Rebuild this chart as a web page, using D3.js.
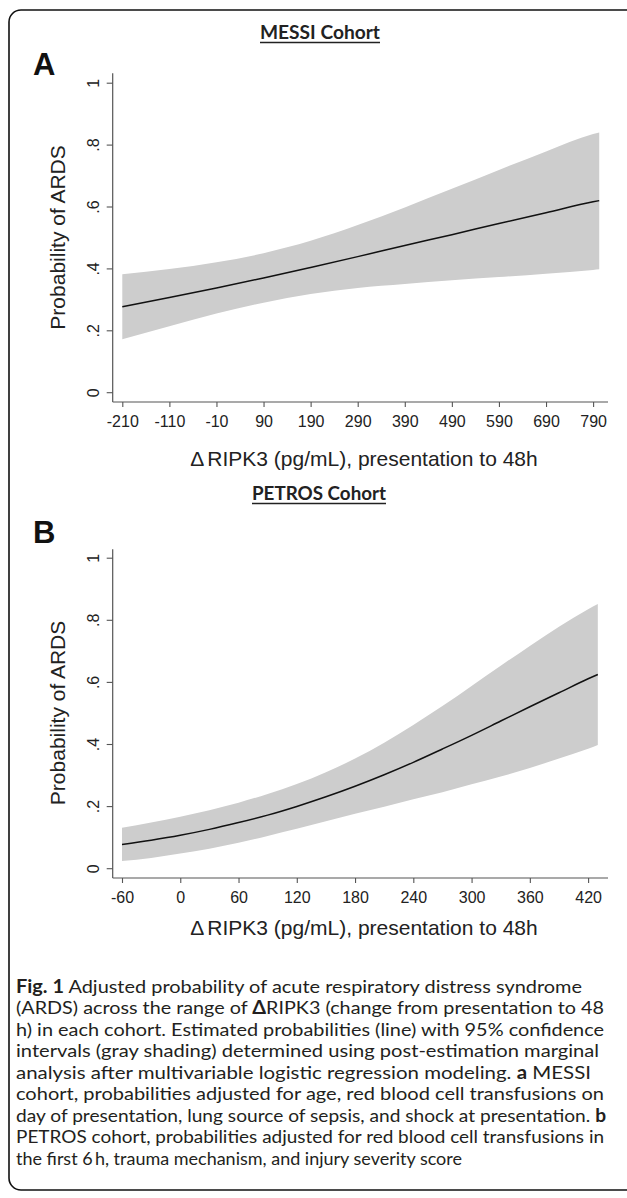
<!DOCTYPE html>
<html>
<head>
<meta charset="utf-8">
<script src="https://cdn.jsdelivr.net/npm/d3@7"></script>
<style>
  body { margin: 0; background: #fff; }
  svg { display: block; }
</style>
</head>
<body>
<svg id="fig" width="627" height="1198"></svg>
<script>
// MESSI cohort : delta RIPK3 vs adjusted probability of ARDS (line + 95% CI)
var messiX     = [-210, -110, -10, 90, 190, 290, 390, 490, 590, 690, 790, 803];
var messiProb  = [0.276, 0.306, 0.337, 0.369, 0.403, 0.438, 0.474, 0.509, 0.545, 0.580, 0.615, 0.619];
var messiUpper = [0.381, 0.398, 0.420, 0.449, 0.489, 0.540, 0.597, 0.657, 0.718, 0.778, 0.834, 0.839];
var messiLower = [0.171, 0.213, 0.254, 0.289, 0.317, 0.337, 0.350, 0.362, 0.372, 0.383, 0.395, 0.397];
var messiTicks = [-210, -110, -10, 90, 190, 290, 390, 490, 590, 690, 790];

// PETROS cohort
var petrosX     = [-60, -30, 0, 30, 60, 90, 120, 150, 180, 210, 240, 270, 300, 330, 360, 390, 420, 430];
var petrosProb  = [0.076, 0.090, 0.106, 0.125, 0.147, 0.171, 0.199, 0.230, 0.264, 0.301, 0.341, 0.384, 0.428, 0.474, 0.520, 0.565, 0.610, 0.624];
var petrosUpper = [0.130, 0.147, 0.166, 0.187, 0.211, 0.239, 0.271, 0.309, 0.353, 0.404, 0.461, 0.522, 0.587, 0.652, 0.716, 0.778, 0.834, 0.851];
var petrosLower = [0.023, 0.033, 0.047, 0.063, 0.082, 0.104, 0.127, 0.151, 0.175, 0.198, 0.222, 0.245, 0.270, 0.295, 0.323, 0.353, 0.385, 0.397];
var petrosTicks = [-60, 0, 60, 120, 180, 240, 300, 360, 420];

var probTicks = [0, 0.2, 0.4, 0.6, 0.8, 1];
var probTickLabels = ["0", ".2", ".4", ".6", ".8", "1"];

var captionLines = [
  [["b", "Fig. 1"], ["", " Adjusted probability of acute respiratory distress syndrome"]],
  [["", "(ARDS) across the range of "], ["b", "\u0394"], ["", "RIPK3 (change from presentation to 48"]],
  [["", "h) in each cohort. Estimated probabilities (line) with 95% confidence"]],
  [["", "intervals (gray shading) determined using post-estimation marginal"]],
  [["", "analysis after multivariable logistic regression modeling. "], ["b", "a"], ["", " MESSI"]],
  [["", "cohort, probabilities adjusted for age, red blood cell transfusions on"]],
  [["", "day of presentation, lung source of sepsis, and shock at presentation. "], ["b", "b"]],
  [["", "PETROS cohort, probabilities adjusted for red blood cell transfusions in"]],
  [["", "the first 6\u2009h, trauma mechanism, and injury severity score"]]
];
var captionWidths = [566, 588, 588, 583, 575, 588, 590, 588, 446];

var axisFont = "'Liberation Sans', Arial, sans-serif";
var svg = d3.select("#fig");

// outer rounded frame (right side runs off the page)
svg.append("rect")
  .attr("x", 9).attr("y", 10)
  .attr("width", 660).attr("height", 1180)
  .attr("rx", 12).attr("ry", 12)
  .attr("fill", "none")
  .attr("stroke", "#111")
  .attr("stroke-width", 1.6);

function drawPanel(p) {
  var g = svg.append("g");

  var x = d3.scaleLinear().domain(p.xDomain).range(p.xRange);
  var y = d3.scaleLinear().domain([0, 1]).range(p.yRange);

  var pts = p.xs.map(function(d, i) {
    return {x: d, prob: p.prob[i], hi: p.upper[i], lo: p.lower[i]};
  });

  // confidence band
  var band = d3.area()
    .x(function(d) { return x(d.x); })
    .y0(function(d) { return y(d.lo); })
    .y1(function(d) { return y(d.hi); })
    .curve(d3.curveMonotoneX);
  g.append("path").datum(pts)
    .attr("d", band)
    .attr("fill", "#cdcdcd");

  // estimated probability
  var line = d3.line()
    .x(function(d) { return x(d.x); })
    .y(function(d) { return y(d.prob); })
    .curve(d3.curveMonotoneX);
  g.append("path").datum(pts)
    .attr("d", line)
    .attr("fill", "none")
    .attr("stroke", "#111")
    .attr("stroke-width", 1.5);

  // axis lines
  g.append("line")
    .attr("x1", p.axisX).attr("x2", p.axisX)
    .attr("y1", p.axisTop).attr("y2", p.axisY)
    .attr("stroke", "#555").attr("stroke-width", 1.2);
  g.append("line")
    .attr("x1", p.axisX).attr("x2", p.axisRight)
    .attr("y1", p.axisY).attr("y2", p.axisY)
    .attr("stroke", "#555").attr("stroke-width", 1.2);

  // x axis
  var xa = g.append("g")
    .attr("transform", "translate(0," + p.axisY + ")")
    .call(d3.axisBottom(x).tickValues(p.ticks).tickSize(5).tickSizeOuter(0).tickFormat(d3.format("d")));
  xa.select(".domain").remove();
  xa.selectAll("line").attr("stroke", "#555").attr("stroke-width", 1.1);
  xa.selectAll("text")
    .attr("y", 25).attr("dy", 0)
    .attr("font-family", axisFont)
    .attr("font-size", 16)
    .attr("fill", "#222")
    .text(function(d) { return String(d).replace("\u2212", "-"); });

  // y axis, labels turned like Stata does
  var ya = g.append("g")
    .attr("transform", "translate(" + p.axisX + ",0)")
    .call(d3.axisLeft(y).tickValues(probTicks).tickSize(6).tickSizeOuter(0)
      .tickFormat(function(d, i) { return probTickLabels[i]; }));
  ya.select(".domain").remove();
  ya.selectAll("line").attr("stroke", "#555").attr("stroke-width", 1.1);
  ya.selectAll("text")
    .attr("transform", "rotate(-90)")
    .attr("x", 0).attr("y", -13.5).attr("dy", 0)
    .attr("text-anchor", "middle")
    .attr("font-family", axisFont)
    .attr("font-size", 16)
    .attr("fill", "#222");

  // axis titles
  var yMid = (p.yRange[0] + p.yRange[1]) / 2;
  g.append("text")
    .attr("transform", "translate(" + p.yTitleX + "," + yMid + ") rotate(-90)")
    .attr("text-anchor", "middle")
    .attr("font-family", axisFont)
    .attr("font-size", 21)
    .attr("fill", "#222")
    .text("Probability of ARDS");

  var xt = g.append("text")
    .attr("x", p.xTitleX).attr("y", p.xTitleY)
    .attr("text-anchor", "middle")
    .attr("font-family", axisFont)
    .attr("font-size", 21)
    .attr("fill", "#222");
  xt.append("tspan").text("\u0394");
  xt.append("tspan").attr("dx", 3).text("RIPK3 (pg/mL), presentation to 48h");

  // cohort title, bold and underlined
  g.append("text")
    .attr("x", p.titleX).attr("y", p.titleY)
    .attr("text-anchor", "middle")
    .attr("font-family", "Lato, 'Open Sans', sans-serif")
    .attr("font-weight", "bold")
    .attr("font-size", 19)
    .attr("textLength", p.titleW)
    .attr("lengthAdjust", "spacingAndGlyphs")
    .attr("fill", "#222")
    .text(p.title);
  g.append("line")
    .attr("x1", p.titleX - p.titleW / 2).attr("x2", p.titleX + p.titleW / 2)
    .attr("y1", p.titleY + 3.5).attr("y2", p.titleY + 3.5)
    .attr("stroke", "#222").attr("stroke-width", 1.3);

  // panel letter
  g.append("text")
    .attr("x", p.letterX).attr("y", p.letterY)
    .attr("font-family", axisFont)
    .attr("font-weight", "bold")
    .attr("font-size", 31)
    .attr("fill", "#111")
    .text(p.letter);
}

drawPanel({
  letter: "A", letterX: 33, letterY: 74.5,
  title: "MESSI Cohort", titleX: 320, titleY: 39, titleW: 120,
  xs: messiX, prob: messiProb, upper: messiUpper, lower: messiLower, ticks: messiTicks,
  xDomain: [-210, 790], xRange: [122.3, 593.1], yRange: [392.2, 82.7],
  axisX: 112.7, axisY: 402, axisTop: 73.3, axisRight: 608,
  yTitleX: 65, xTitleX: 364, xTitleY: 466
});

drawPanel({
  letter: "B", letterX: 33, letterY: 543.3,
  title: "PETROS Cohort", titleX: 319, titleY: 500, titleW: 134,
  xs: petrosX, prob: petrosProb, upper: petrosUpper, lower: petrosLower, ticks: petrosTicks,
  xDomain: [-60, 420], xRange: [122, 588.1], yRange: [868.2, 557.7],
  axisX: 112.7, axisY: 878, axisTop: 549.3, axisRight: 608,
  yTitleX: 65, xTitleX: 364, xTitleY: 935
});

// figure caption
var cap = svg.append("g")
  .attr("font-family", "Lato, 'Open Sans', sans-serif")
  .attr("font-size", 18)
  .attr("fill", "#231f20");

captionLines.forEach(function(parts, i) {
  var t = cap.append("text")
    .attr("x", 16)
    .attr("y", 992.5 + i * 21.5)
    .attr("textLength", captionWidths[i])
    .attr("lengthAdjust", "spacingAndGlyphs");
  parts.forEach(function(pt) {
    var s = t.append("tspan").text(pt[1]);
    if (pt[0] == "b") s.attr("font-weight", "bold");
  });
});
</script>
</body>
</html>
